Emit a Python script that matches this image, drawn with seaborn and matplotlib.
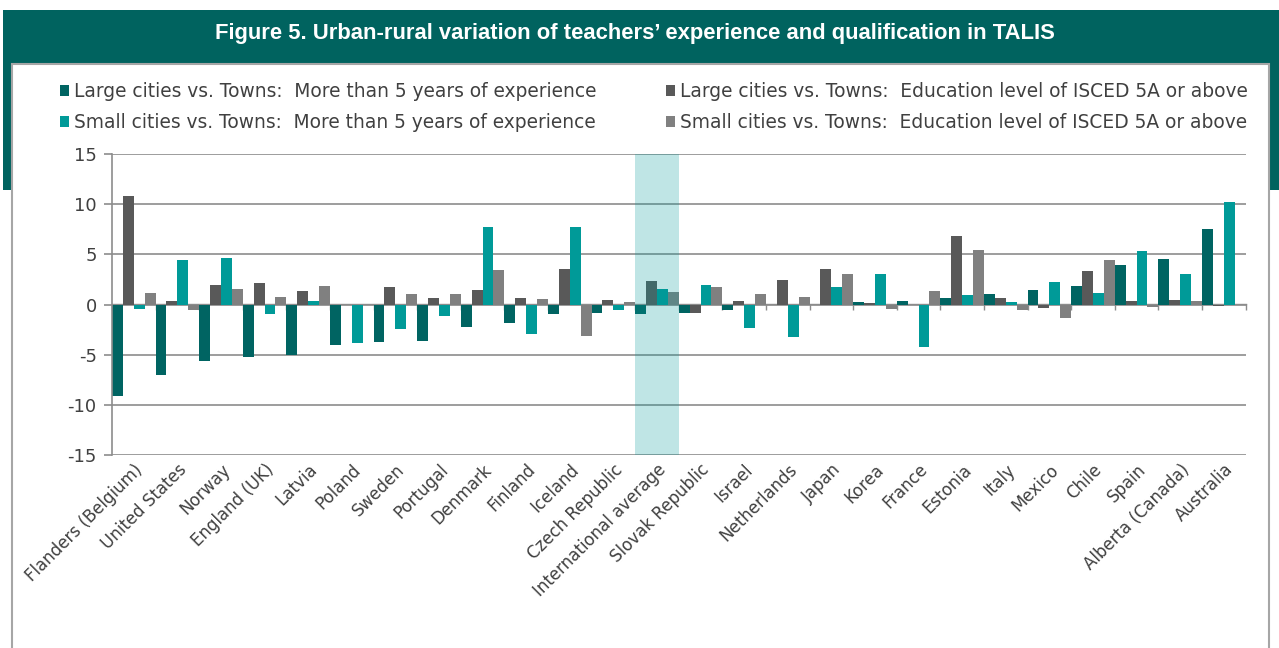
import numpy as np
import pandas as pd
import matplotlib
matplotlib.use("Agg")
import matplotlib.pyplot as plt
import seaborn as sns
from matplotlib.patches import Rectangle, Patch

# ---------------- data ----------------
countries = ["Flanders (Belgium)", "United States", "Norway", "England (UK)", "Latvia",
             "Poland", "Sweden", "Portugal", "Denmark", "Finland", "Iceland",
             "Czech Republic", "International average", "Slovak Republic", "Israel",
             "Netherlands", "Japan", "Korea", "France", "Estonia", "Italy", "Mexico",
             "Chile", "Spain", "Alberta (Canada)", "Australia"]

large_exp = [-9.15, -7.0, -5.6, -5.25, -5.0, -4.03, -3.77, -3.6, -2.2, -1.88, -0.96,
             -0.86, -0.9, -0.8, -0.53, 0.0, 0.0, 0.23, 0.3, 0.69, 1.09, 1.49,
             1.85, 3.93, 4.56, 7.53]
large_edu = [10.84, 0.3, 1.92, 2.11, 1.39, 0.0, 1.72, 0.69, 1.42, 0.6, 3.5,
             0.4, 2.31, -0.86, 0.3, 2.41, 3.57, 0.1, 0.0, 6.87, 0.69, -0.3,
             3.3, 0.3, 0.46, -0.1]
small_exp = [-0.46, 4.43, 4.66, -0.9, 0.3, -3.87, -2.44, -1.19, 7.73, -2.97, 7.73,
             -0.53, 1.52, 1.98, -2.31, -3.2, 1.78, 3.07, -4.2, 0.99, 0.26, 2.28,
             1.12, 5.32, 3.07, 10.24]
small_edu = [1.12, -0.53, 1.52, 0.76, 1.85, 0.0, 1.06, 1.08, 3.47, 0.5, -3.17,
             0.23, 1.29, 1.72, 1.09, 0.73, 3.07, -0.4, 1.39, 5.48, -0.53, -1.32,
             4.46, -0.23, 0.3, 0.0]

series_names = ["Large cities vs. Towns:  More than 5 years of experience",
                "Large cities vs. Towns:  Education level of ISCED 5A or above",
                "Small cities vs. Towns:  More than 5 years of experience",
                "Small cities vs. Towns:  Education level of ISCED 5A or above"]
highlight = "International average"
yticks = [-15, -10, -5, 0, 5, 10, 15]
title = "Figure 5. Urban-rural variation of teachers\u2019 experience and qualification in TALIS"

# ---------------- style ----------------
colors = ["#006462", "#595959", "#009A98", "#808080"]
HEADER = "#00635F"
GRID = "#8c8c8c"
TXT = "#404040"

sns.set_theme(style="white")
plt.rcParams["font.family"] = ["DejaVu Sans"]
plt.rcParams["axes.unicode_minus"] = False

W, H = 1279, 648
fig = plt.figure(figsize=(W / 100, H / 100), dpi=100)
fig.patch.set_facecolor("white")

# header band and white panel
fig.add_artist(Rectangle((3 / W, (H - 190) / H), 1 - 3 / W, 180 / H,
                         transform=fig.transFigure, facecolor=HEADER,
                         edgecolor="none", zorder=-10))
fig.add_artist(Rectangle((12 / W, -0.05), (1269 - 12) / W, (H - 64) / H + 0.05,
                         transform=fig.transFigure, facecolor="white",
                         edgecolor="#a6a6a6", lw=1.5, zorder=-9))

fig.text(635 / W, 1 - 34 / H, title, color="white", fontsize=15.8,
         fontweight="bold", ha="center", va="center",
         family=["Liberation Sans", "DejaVu Sans"])

# ---------------- chart ----------------
ax = fig.add_axes([112 / W, 193 / H, 1133.5 / W, 301 / H])
ax.set_facecolor("none")

df = pd.DataFrame({
    "country": countries * 4,
    "series": sum([[s] * len(countries) for s in series_names], []),
    "value": large_exp + large_edu + small_exp + small_edu,
})

sns.barplot(data=df, x="country", y="value", hue="series", order=countries,
            hue_order=series_names, palette=colors, width=1.0, gap=0,
            saturation=1, errorbar=None, linewidth=0, legend=False, ax=ax)

ax.set_xlim(-0.5, len(countries) - 0.5)
ax.set_ylim(yticks[0], yticks[-1])
ax.set_yticks(yticks)
ax.set_yticklabels([str(v) for v in yticks])
ax.yaxis.grid(True, color=GRID, lw=1.2)
ax.xaxis.grid(False)
ax.set_axisbelow(True)
for s in ["top", "right", "bottom"]:
    ax.spines[s].set_visible(False)
ax.spines["left"].set_color(GRID)
ax.spines["left"].set_linewidth(1.2)
ax.tick_params(axis="y", left=True, length=6, width=1.2, color=GRID,
               labelsize=13, labelcolor=TXT, pad=5, direction="out")
ax.tick_params(axis="x", bottom=False, length=0, labelsize=12, labelcolor=TXT, pad=4)
ax.set_xlabel("")
ax.set_ylabel("")
plt.setp(ax.get_xticklabels(), rotation=45, ha="right", va="top",
         rotation_mode="anchor")

# zero axis line with category-boundary tick marks
sec = ax.secondary_xaxis(0.5)
sec.set_xticks(np.arange(len(countries) + 1) - 0.5)
sec.tick_params(length=4, width=1, color=GRID, direction="in",
                labeltop=False, labelbottom=False)
for s in sec.spines.values():
    s.set_color(GRID)
    s.set_linewidth(1)

# highlighted category
hi = countries.index(highlight)
ax.axvspan(hi - 0.5, hi + 0.5, facecolor="#009999", alpha=0.25, lw=0, zorder=5)

# ---------------- legend ----------------
handles = [Patch(facecolor=c, edgecolor="none") for c in colors]
for cols, x0 in (([0, 2], 60), ([1, 3], 666)):
    leg = fig.legend(handles=[handles[i] for i in cols],
                     labels=[series_names[i] for i in cols],
                     loc="center left", bbox_to_anchor=(x0 / W, 1 - 107 / H),
                     frameon=False, fontsize=13.4, handlelength=0.5,
                     handleheight=0.5, handletextpad=0.25, labelspacing=0.64,
                     borderpad=0, borderaxespad=0)
    for t in leg.get_texts():
        t.set_color(TXT)

fig.savefig("out.png", dpi=100)
